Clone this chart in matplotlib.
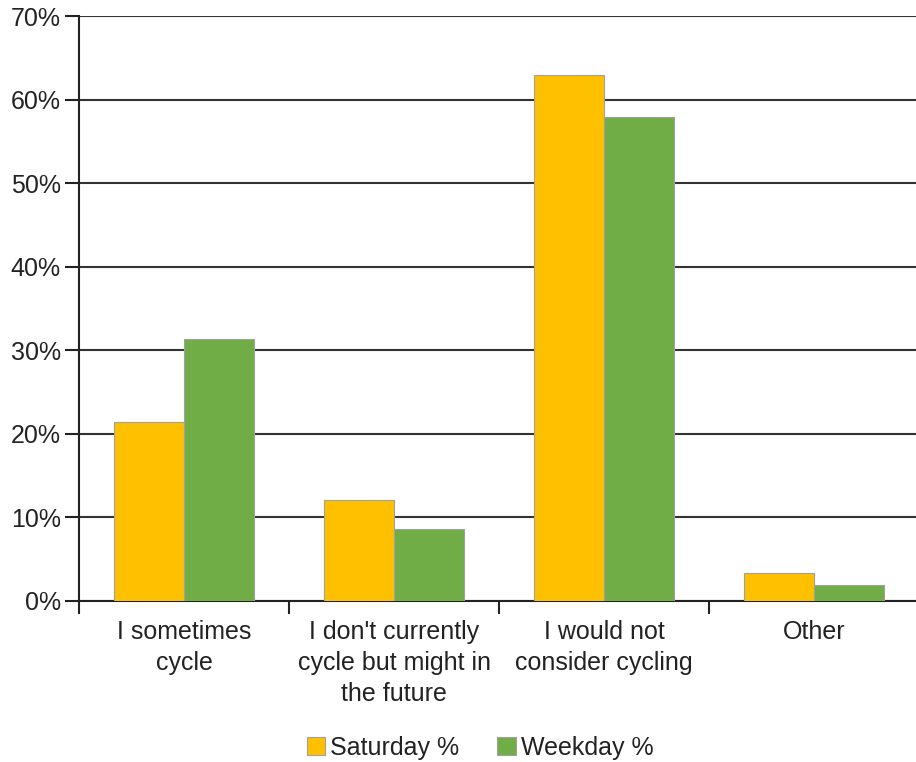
import matplotlib.pyplot as plt
import numpy as np
from matplotlib.ticker import FixedLocator, PercentFormatter

plt.rcParams['font.family'] = ['Liberation Sans', 'DejaVu Sans']

categories = ["I sometimes\ncycle",
              "I don't currently\ncycle but might in\nthe future",
              "I would not\nconsider cycling",
              "Other"]
saturday = [21.4, 12.1, 63.0, 3.3]
weekday = [31.3, 8.6, 57.9, 1.9]
yticks = [0, 10, 20, 30, 40, 50, 60, 70]

fig = plt.figure(figsize=(9.16, 7.62), dpi=100)
ax = fig.add_axes([79/916, 161/762, 840/916, 585/762])

x = np.arange(len(categories))
w = 1/3
ax.bar(x - w/2, saturday, w, color='#FFC000', edgecolor='#a0a0a0', linewidth=0.8,
       label='Saturday %', zorder=3)
ax.bar(x + w/2, weekday, w, color='#70AD47', edgecolor='#a0a0a0', linewidth=0.8,
       label='Weekday %', zorder=3)

ax.set_xlim(-0.5, 3.5)
ax.set_ylim(0, 70)
ax.set_yticks(yticks)
ax.yaxis.set_major_formatter(PercentFormatter(decimals=0))
ax.grid(axis='y', color='#333333', linewidth=1.5, zorder=0)

ax.set_xticks(x)
ax.set_xticklabels(categories, fontsize=18, color='#222222', linespacing=1.35)
ax.tick_params(axis='x', which='major', length=0, pad=14)
ax.xaxis.set_minor_locator(FixedLocator(np.arange(-0.5, 3.6, 1.0)))
ax.tick_params(axis='x', which='minor', length=9, width=1.5, color='#222222')
ax.tick_params(axis='y', length=10, width=1.5, color='#222222', labelsize=18,
               labelcolor='#222222', pad=3)

for s in ['top', 'right']:
    ax.spines[s].set_visible(False)
for s in ['left', 'bottom']:
    ax.spines[s].set_linewidth(1.5)
    ax.spines[s].set_color('#222222')

leg = fig.legend(loc='center', bbox_to_anchor=(480/916, 1 - 748/762), ncol=2,
                 frameon=False, fontsize=18, handlelength=0.75, handleheight=0.75,
                 handletextpad=0.2, columnspacing=1.5)
for t in leg.get_texts():
    t.set_color('#222222')

fig.savefig('out.png', dpi=100)
